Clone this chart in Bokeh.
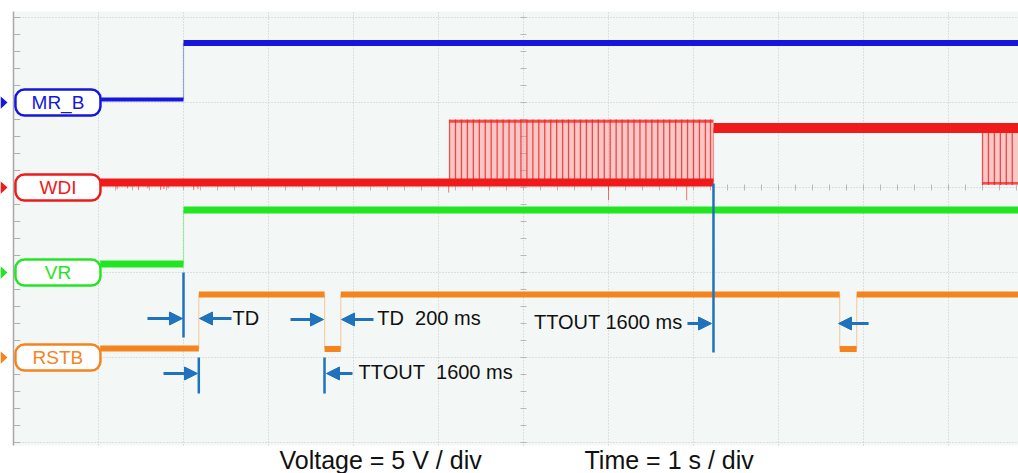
import numpy as np
from bokeh.plotting import figure
from bokeh.models import Range1d
from bokeh.core.properties import value
from bokeh.embed import file_html
from bokeh.resources import INLINE

# ---------------- data (time in s = div, level in div) ----------------
CHANNELS = ["MR_B", "WDI", "VR", "RSTB"]
CH_LEVEL = [4.0, 3.0, 2.0, 1.0]          # channel marker levels
CH_COLOR = ["#1616dc", "#f01a1a", "#22e622", "#f5841f"]

MRB_T = [1.02, 2.0, 12.0]
MRB_V = [4.035, 4.70]

VR_T = [1.02, 2.0, 12.0]
VR_V = [2.10, 2.735]

WDI_T = [1.02, 8.235, 12.0]
WDI_V = [3.06, 3.70]
WDI_PULSE_TOP = 3.80
WDI_PULSES_UP = [5.13, 5.20, 5.27, 5.34, 5.41, 5.48, 5.55, 5.62, 5.69, 5.76,
                 5.83, 5.90, 5.97, 6.04, 6.11, 6.18, 6.25, 6.32, 6.39, 6.46,
                 6.53, 6.60, 6.67, 6.74, 6.81, 6.88, 6.95, 7.02, 7.09, 7.16,
                 7.23, 7.30, 7.37, 7.44, 7.51, 7.58, 7.65, 7.72, 7.79, 7.86,
                 7.93, 8.00, 8.07, 8.14, 8.20]
WDI_PULSE_BOTTOM = 3.03
WDI_PULSES_DOWN = [11.40, 11.47, 11.54, 11.61, 11.68, 11.75]
WDI_SPIKE_X = [1.22, 1.34, 1.47, 1.58, 1.73, 1.77, 1.82, 2.12, 2.17, 5.12, 7.00, 7.92]
WDI_SPIKE_Y = [2.98, 2.99, 2.97, 2.99, 2.97, 2.98, 2.99, 2.97, 2.98, 2.94, 2.85, 2.85]

RSTB_T = [1.02, 2.18, 3.66, 3.85, 9.72, 9.92, 12.0]
RSTB_V = [1.106, 1.74, 1.10, 1.74, 1.10, 1.74]

# annotation markers
MARK_X = [2.0, 2.18, 3.659, 8.235]
MARK_Y0 = [1.235, 0.576, 0.576, 1.059]
MARK_Y1 = [2.0, 1.0, 1.0, 3.047]
ARROW_X0 = [1.576, 2.565, 1.765, 3.259, 4.235, 3.988, 7.929, 10.06]
ARROW_X1 = [1.988, 2.188, 2.165, 3.647, 3.859, 3.682, 8.212, 9.706]
ARROW_Y = [1.459, 1.459, 0.812, 1.447, 1.447, 0.812, 1.40, 1.40]
NOTE_TEXT = ["TD", "TD\u00a0\u00a0200 ms", "TTOUT\u00a0\u00a01600 ms", "TTOUT 1600 ms"]
NOTE_X = [2.576, 4.28, 4.06, 7.871]
NOTE_Y = [1.47, 1.47, 0.83, 1.42]
NOTE_ALIGN = ["left", "left", "left", "right"]

SCALE_TEXT = ["Voltage = 5 V / div", "Time = 1 s / div"]
SCALE_X = [3.129, 6.718]
SCALE_Y = [-0.2, -0.2]

# ---------------- figure ----------------
PX = 85.0
W, H = 1018, 473
X0, Y0 = 13, 442          # pixel of (0 s, 0 div)
p = figure(width=W, height=H, output_backend="svg", toolbar_location=None,
           x_range=Range1d(-X0 / PX, (W - X0) / PX), y_range=Range1d((Y0 - H) / PX, Y0 / PX),
           x_axis_type=None, y_axis_type=None,
           min_border_left=0, min_border_right=0, min_border_top=0, min_border_bottom=0)
p.background_fill_color = "white"
p.border_fill_color = "white"
p.outline_line_color = None

FONT = "Liberation Sans"
GRID_C = "#c3c8c8"
TOP = 5.07
BOT = -0.035

# screen area
p.quad(left=[0], right=[13], bottom=[BOT], top=[TOP], fill_color="#f3f8f6", line_color=None)

# grid
gx = np.arange(1, 12)
p.segment(x0=gx, x1=gx, y0=BOT, y1=TOP, line_color=GRID_C, line_width=1, line_dash="1 2")
gy = np.arange(0, 6)
p.segment(x0=0, x1=13, y0=gy, y1=gy, line_color=GRID_C, line_width=1, line_dash="1 2")
# left frame line with minor ticks
p.segment(x0=[0], x1=[0], y0=[BOT], y1=[TOP], line_color="#a8a8a8", line_width=1.5)
ty = np.arange(0, 5.01, 0.2)
p.segment(x0=0, x1=0.08, y0=ty, y1=ty, line_color="#b0b0b0", line_width=1)
# centre cross ticks
tx = np.arange(0.2, 11.9, 0.2)
p.segment(x0=tx, x1=tx, y0=3 - 0.035, y1=3 + 0.035, line_color="#b8b8b8", line_width=1)
p.segment(x0=6 - 0.035, x1=6 + 0.035, y0=ty, y1=ty, line_color="#b8b8b8", line_width=1)


def trace(T, V, color, width, edge_alpha=0.35):
    p.segment(x0=T[:-1], x1=T[1:], y0=V, y1=V, line_color=color, line_width=width)
    p.segment(x0=T[1:-1], x1=T[1:-1], y0=V[:-1], y1=V[1:], line_color=color,
              line_width=1.2, line_alpha=edge_alpha)


# MR_B
bc = CH_COLOR[0]
p.segment(x0=[MRB_T[0]], x1=[MRB_T[1]], y0=[MRB_V[0]], y1=[MRB_V[0]], line_color=bc, line_width=4)
p.segment(x0=[MRB_T[1]], x1=[MRB_T[2]], y0=[MRB_V[1]], y1=[MRB_V[1]], line_color=bc, line_width=6)
p.segment(x0=[MRB_T[1]], x1=[MRB_T[1]], y0=[MRB_V[0]], y1=[MRB_V[1]], line_color=bc, line_width=1.2, line_alpha=0.35)

# WDI
wc = CH_COLOR[1]
p.quad(left=[WDI_PULSES_UP[0]], right=[WDI_T[1]], bottom=[WDI_V[0]], top=[WDI_PULSE_TOP],
       fill_color="#ff8080", fill_alpha=0.4, line_color=None)
p.segment(x0=WDI_PULSES_UP, x1=WDI_PULSES_UP, y0=WDI_V[0], y1=WDI_PULSE_TOP,
          line_color=wc, line_width=1.3, line_alpha=0.75)
p.segment(x0=[WDI_PULSES_UP[0]], x1=[WDI_T[1]], y0=[WDI_PULSE_TOP - 0.02], y1=[WDI_PULSE_TOP - 0.02],
          line_color=wc, line_width=3, line_alpha=0.7)
p.quad(left=[WDI_PULSES_DOWN[0]], right=[13], bottom=[WDI_PULSE_BOTTOM], top=[WDI_V[1]],
       fill_color="#ff8080", fill_alpha=0.4, line_color=None)
p.segment(x0=WDI_PULSES_DOWN, x1=WDI_PULSES_DOWN, y0=WDI_PULSE_BOTTOM, y1=WDI_V[1],
          line_color=wc, line_width=1.3, line_alpha=0.75)
p.segment(x0=[WDI_PULSES_DOWN[0]], x1=[13], y0=[WDI_PULSE_BOTTOM + 0.02], y1=[WDI_PULSE_BOTTOM + 0.02],
          line_color=wc, line_width=2.5, line_alpha=0.7)
p.segment(x0=WDI_SPIKE_X, x1=WDI_SPIKE_X, y0=WDI_V[0], y1=WDI_SPIKE_Y, line_color=wc, line_width=1, line_alpha=0.6)
p.segment(x0=[WDI_T[0]], x1=[WDI_T[1]], y0=[WDI_V[0]], y1=[WDI_V[0]], line_color=wc, line_width=8)
p.segment(x0=[WDI_T[1]], x1=[WDI_T[2]], y0=[WDI_V[1]], y1=[WDI_V[1]], line_color=wc, line_width=10)
p.segment(x0=[WDI_T[1]], x1=[WDI_T[1]], y0=[WDI_V[0]], y1=[WDI_V[1]], line_color=wc, line_width=1.2, line_alpha=0.4)

# VR
trace(VR_T, VR_V, CH_COLOR[2], 7)
# RSTB
trace(RSTB_T, RSTB_V, CH_COLOR[3], 6)

# channel labels
p.rect(x=0.523, y=CH_LEVEL, width=1.0, height=0.306, border_radius=9,
       fill_color="white", line_color=CH_COLOR, line_width=2.5)
p.text(x=0.523, y=CH_LEVEL, text=CHANNELS, text_color=CH_COLOR, text_align="center",
       text_baseline="middle", text_font=value(FONT), text_font_size="19px")
tri_xs = [[-X0 / PX, -6 / PX, -X0 / PX] for _ in CH_LEVEL]
tri_ys = [[l + 0.075, l, l - 0.075] for l in CH_LEVEL]
p.patches(xs=tri_xs, ys=tri_ys, fill_color=CH_COLOR, line_color=None)

# annotations
AC = "#1f72bd"
p.segment(x0=MARK_X, x1=MARK_X, y0=MARK_Y0, y1=MARK_Y1, line_color=AC, line_width=2.5)
HL = 13 / PX    # arrow head length in data units
hx0 = []
hx1 = []
tris_x = []
tris_y = []
for x0, x1, y in zip(ARROW_X0, ARROW_X1, ARROW_Y):
    d = 1 if x1 > x0 else -1
    base = x1 - d * HL
    hx0.append(x0)
    hx1.append(base)
    tris_x.append([base, x1, base])
    tris_y.append([y + 6.5 / PX, y, y - 6.5 / PX])
p.segment(x0=hx0, x1=hx1, y0=ARROW_Y, y1=ARROW_Y, line_color=AC, line_width=3)
p.patches(xs=tris_x, ys=tris_y, fill_color=AC, line_color=AC, line_width=1)

p.text(x=NOTE_X, y=NOTE_Y, text=NOTE_TEXT, text_align=NOTE_ALIGN, text_baseline="middle",
       text_font=value(FONT), text_font_size="20px", text_color="#111111")

p.text(x=SCALE_X, y=SCALE_Y, text=SCALE_TEXT, text_align="left", text_baseline="middle",
       text_font=value(FONT), text_font_size="25px", text_color="#111111")

open("out.html", "w").write(file_html(p, INLINE))
